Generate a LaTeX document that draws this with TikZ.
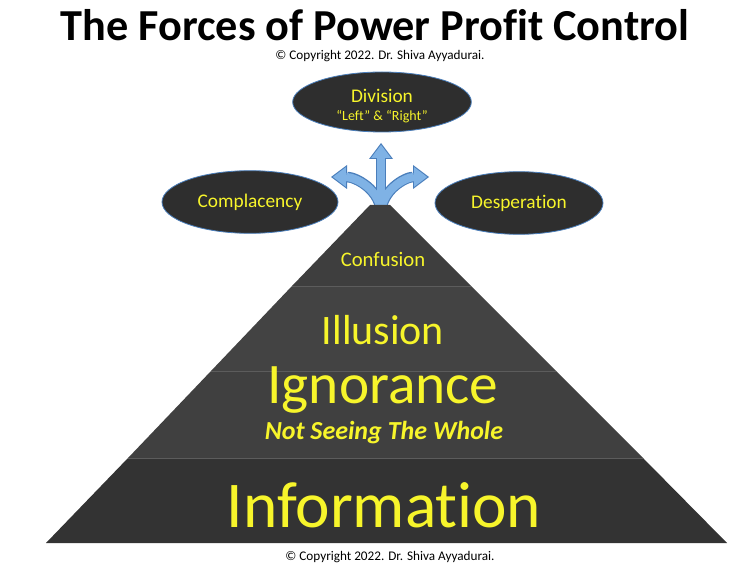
\documentclass[tikz,border=0pt]{standalone}
\usepackage{fontspec}
\setmainfont{Carlito}[Ligatures={NoCommon,NoRequired,NoContextual}]
\usepackage{xcolor}
\usetikzlibrary{positioning,arrows.meta,shapes.geometric}

\definecolor{layertop}{HTML}{3E3E3E}
\definecolor{layermid}{HTML}{434343}
\definecolor{layerbase}{HTML}{333333}
\definecolor{layerline}{HTML}{5C5C5C}
\definecolor{ovalfill}{HTML}{2E2E2E}
\definecolor{ovaledge}{HTML}{4A7EBB}
\definecolor{labelyellow}{HTML}{F7F52B}
\definecolor{forkblue}{HTML}{7FB2E5}
\definecolor{forkedge}{HTML}{4A7EBB}

\tikzset{
  oval/.style={ellipse, draw=ovaledge, line width=0.6pt, fill=ovalfill, text=labelyellow, inner sep=0pt, align=center},
  tag/.style={text=labelyellow, inner sep=0pt},
  fork/.style={line width=8pt, draw=forkedge, -{Triangle[width=18pt,length=12pt,line width=0pt]}},
  forkin/.style={line width=6.2pt, draw=forkblue, shorten >=1.4pt, -{Triangle[width=14.8pt,length=9.8pt,line width=0pt]}}
}

\begin{document}
\begin{tikzpicture}[x=0.75pt,y=-0.75pt,>=Stealth]
\useasboundingbox (0,0) rectangle (752,577);

\node[font=\bfseries\fontsize{33.2}{38}\selectfont] (title) at (375,25) {The Forces of Power Profit Control};
\node[font=\fontsize{9.9}{12}\selectfont] (copytop) at (380,56) {\textcopyright{} Copyright 2022. Dr. Shiva Ayyadurai.};

% fork arrows out of the apex
\coordinate (fork) at (381,214);
\coordinate (forkup) at (381,143);
\coordinate (forkleft) at (331,177);
\coordinate (forkright) at (429,177);
\draw[fork] (fork) -- (forkup);
\draw[fork] (fork) to[out=90,in=0] (forkleft);
\draw[fork] (fork) to[out=90,in=180] (forkright);
\draw[forkin] (fork) -- (forkup);
\draw[forkin] (fork) to[out=90,in=0] (forkleft);
\draw[forkin] (fork) to[out=90,in=180] (forkright);

% pyramid layers
\fill[layertop] (370,205) -- (390,205) -- (471,286) -- (292,286) -- cycle;
\fill[layermid] (292,286) -- (471,286) -- (556,371) -- (211,371) -- cycle;
\fill[layermid!95!black] (211,371) -- (556,371) -- (643,458) -- (128,458) -- cycle;
\fill[layerbase] (128,458) -- (643,458) -- (727,543) -- (46,543) -- cycle;
\draw[layerline, line width=0.6pt] (292,286) -- (471,286);
\draw[layerline, line width=0.6pt] (211,371) -- (556,371);
\draw[layerline, line width=0.6pt] (128,458) -- (643,458);

\node[tag, font=\fontsize{15.5}{18}\selectfont] (confusion) at (383,259) {Confusion};
\node[tag, font=\fontsize{31.5}{36}\selectfont] (illusion) at (383,330) {Illusion};
\node[tag, font=\fontsize{43}{48}\selectfont] (ignorance) at (383,390) {Ignorance};
\node[tag, font=\bfseries\itshape\fontsize{19.5}{23}\selectfont] (notseeing) at (384,433) {Not Seeing The Whole};
\node[tag, font=\fontsize{49}{54}\selectfont] (information) at (384,505) {Information};

% the three outcomes
\node[oval, minimum width=134pt, minimum height=45pt] (division) at (382,102) {};
\node[tag, align=center] (divisiontext) at (382,106)
  {\fontsize{14.5}{15}\selectfont Division\\[2pt]{\fontsize{10.5}{12}\selectfont ``Left'' \& ``Right''}};
\node[oval, minimum width=132pt, minimum height=47pt, font=\fontsize{14.5}{17}\selectfont] (complacency) at (250,202) {Complacency};
\node[oval, minimum width=126pt, minimum height=47pt, font=\fontsize{14.5}{17}\selectfont] (desperation) at (519,203) {Desperation};

\node[font=\fontsize{9.9}{12}\selectfont] (copybottom) at (390,557) {\textcopyright{} Copyright 2022. Dr. Shiva Ayyadurai.};

\end{tikzpicture}
\end{document}
